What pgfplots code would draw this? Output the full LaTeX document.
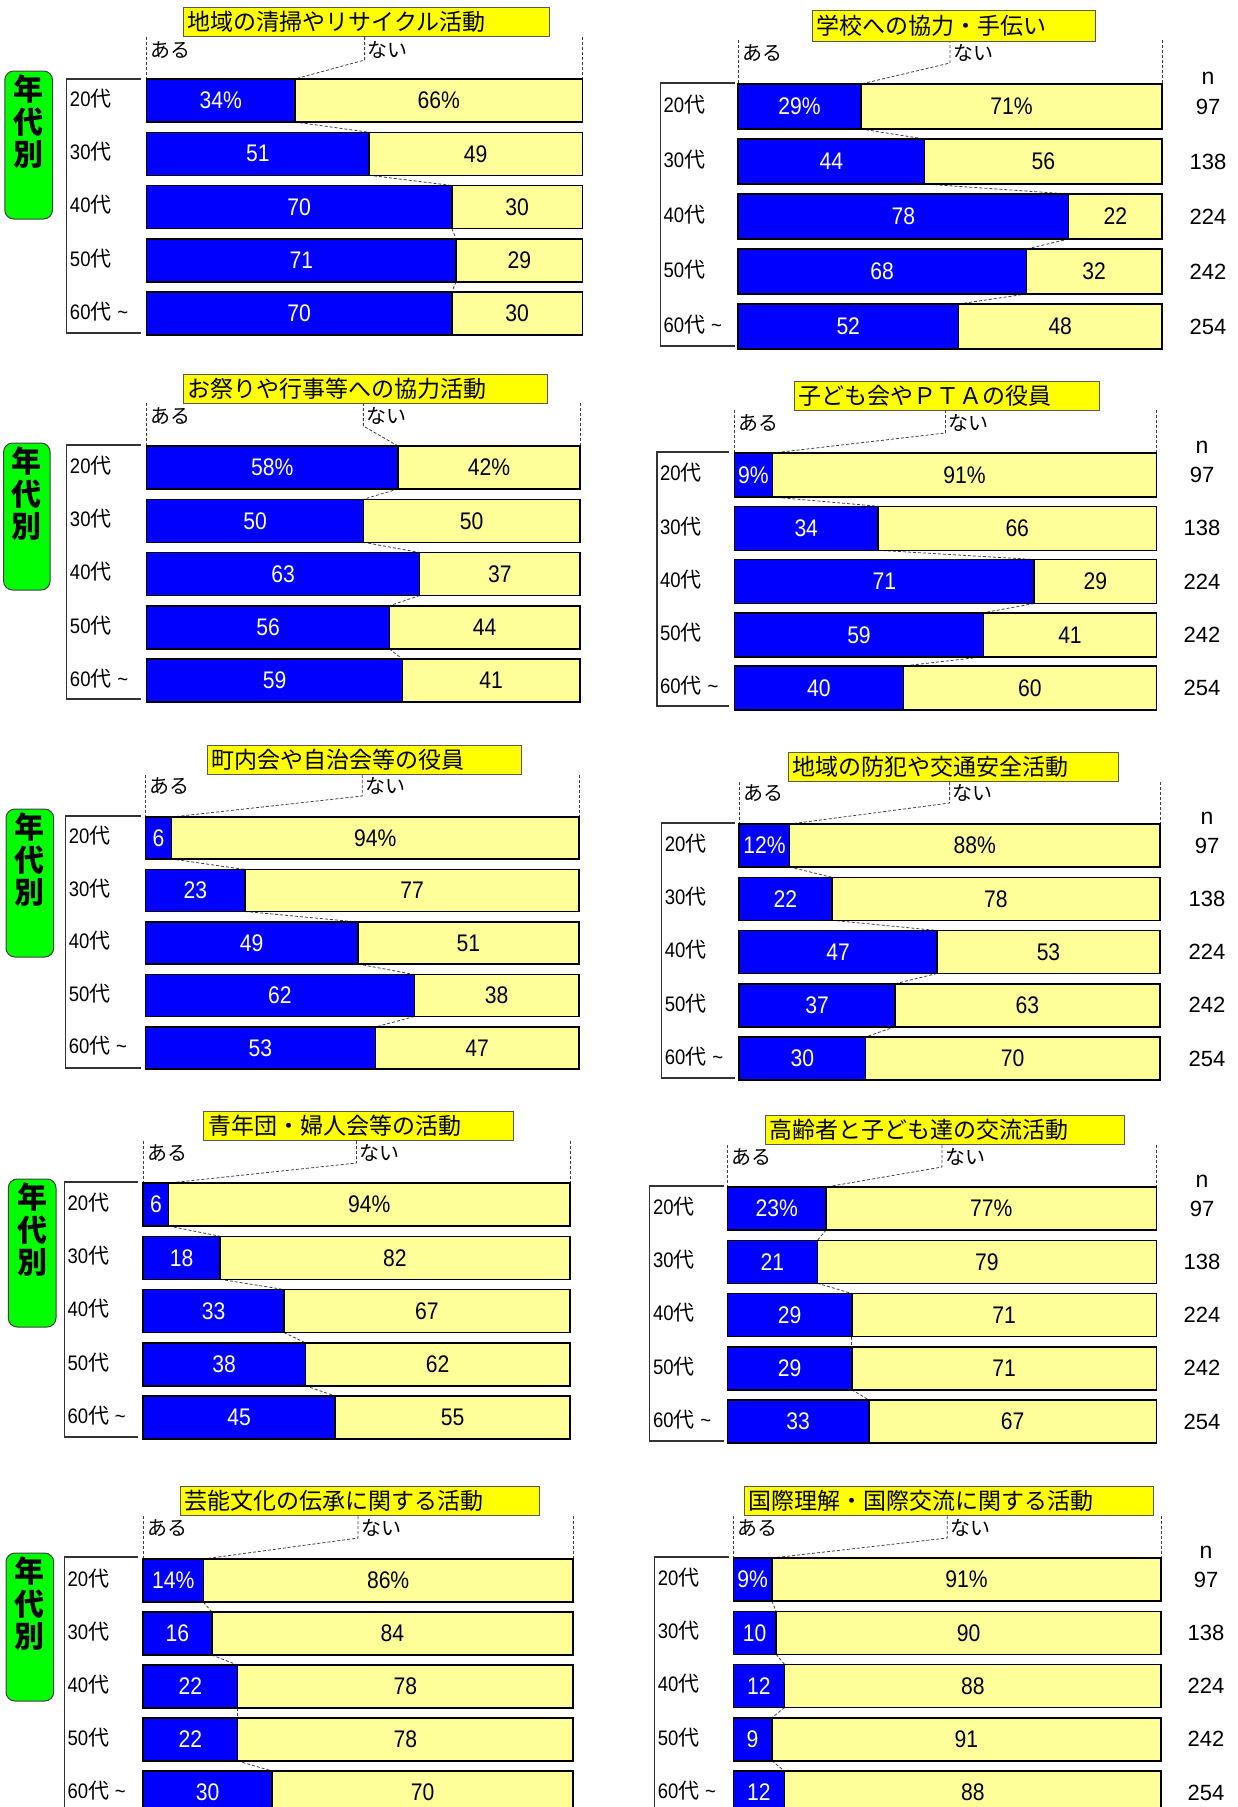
\documentclass[border=0pt]{standalone}
\usepackage{fontspec}
\usepackage{pgfplots}
\usepackage{pgfplotstable}
\pgfplotsset{compat=1.18}
\setmainfont{Liberation Sans}
\newfontfamily\cjk{Noto Sans CJK JP}
\newfontfamily\num[FakeStretch=0.88]{Liberation Sans}
\newfontfamily\numn{Liberation Sans}
\definecolor{bblue}{RGB}{0,0,255}
\definecolor{byel}{RGB}{255,255,153}
\definecolor{tyel}{RGB}{255,255,0}
\definecolor{gbox}{RGB}{0,255,0}
\tikzset{serie/.style={dash pattern=on 3pt off 2pt, black!75, line width=0.8pt}}
\pgfplotsset{
  lblY/.style={draw=none, mark=none, point meta=explicit symbolic,
    every node near coord/.append style={anchor=center, inner sep=0pt, text=white, font=\num\fontsize{24}{24}\selectfont}},
  lblN/.style={draw=none, mark=none, point meta=explicit symbolic,
    every node near coord/.append style={anchor=center, inner sep=0pt, text=black, font=\num\fontsize{24}{24}\selectfont}},
}

% ---------------- data ----------------
\pgfplotstableread{
i yes no n
0 34 66 97
1 51 49 138
2 70 30 224
3 71 29 242
4 70 30 254
}\tA
\pgfplotstableread{
i yes no n
0 29 71 97
1 44 56 138
2 78 22 224
3 68 32 242
4 52 48 254
}\tB
\pgfplotstableread{
i yes no n
0 58 42 97
1 50 50 138
2 63 37 224
3 56 44 242
4 59 41 254
}\tC
\pgfplotstableread{
i yes no n
0 9 91 97
1 34 66 138
2 71 29 224
3 59 41 242
4 40 60 254
}\tD
\pgfplotstableread{
i yes no n
0 6 94 97
1 23 77 138
2 49 51 224
3 62 38 242
4 53 47 254
}\tE
\pgfplotstableread{
i yes no n
0 12 88 97
1 22 78 138
2 47 53 224
3 37 63 242
4 30 70 254
}\tF
\pgfplotstableread{
i yes no n
0 6 94 97
1 18 82 138
2 33 67 224
3 38 62 242
4 45 55 254
}\tG
\pgfplotstableread{
i yes no n
0 23 77 97
1 21 79 138
2 29 71 224
3 29 71 242
4 33 67 254
}\tH
\pgfplotstableread{
i yes no n
0 14 86 97
1 16 84 138
2 22 78 224
3 22 78 242
4 30 70 254
}\tI
\pgfplotstableread{
i yes no n
0 9 91 97
1 10 90 138
2 12 88 224
3 9 91 242
4 12 88 254
}\tJ

% ---------------- helpers ----------------
\newcommand\age[1]{{\num #1}{\cjk\fontsize{21}{21}\selectfont 代}}
\newcommand\geom[7]{\def\pL{#1}\def\pR{#2}\def\pT{#3}\def\pP{#4}\def\pH{#5}\def\pD{#6}\def\pW{#7}}
\newcommand\brk[4]{\def\bX{#1}\def\bT{#2}\def\bB{#3}\def\bR{#4}%
  \draw[black!80, line width=1.2pt] (#4pt,-#2pt) -- (#1pt,-#2pt) -- (#1pt,-#3pt) -- (#4pt,-#3pt);}
\newcommand\ttl[5]{%
  \draw[fill=tyel, draw=black!65, line width=1pt] (#1pt,-#2pt) rectangle (#3pt,-#4pt);
  \node[anchor=west, inner sep=0pt, font=\cjk\fontsize{23}{25}\selectfont] at (#1pt+4pt,-#2pt/2-#4pt/2) {#5};}
\newcommand\grn[4]{%
  \draw[fill=gbox, draw=black!75, line width=1pt, rounded corners=9pt] (#1pt,-#2pt) rectangle (#3pt,-#4pt);
  \pgfmathsetmacro\gc{(#1+#3)/2}%
  \node[font=\cjk\bfseries\fontsize{30}{30}\selectfont, inner sep=0pt] at (\gc pt,-#2pt-18pt) {年};
  \node[font=\cjk\bfseries\fontsize{30}{30}\selectfont, inner sep=0pt] at (\gc pt,-#2pt-51pt) {代};
  \node[font=\cjk\bfseries\fontsize{30}{30}\selectfont, inner sep=0pt] at (\gc pt,-#2pt-83pt) {別};}
\newcommand\nhead[2]{\node[font=\fontsize{23}{23}\selectfont, inner sep=0pt] at (#1pt,-#2pt) {n};}

\newcommand\panel[3]{% #1 table, #2 x of n column (0 = none), #3 suffix of first blue label
  \pgfmathsetmacro\Atop{\pT+\pH/2-\pP/2}%
  \pgfmathsetmacro\Ht{5*\pP}%
  \pgfmathsetmacro\Wd{\pR-\pL}%
  \pgfmathsetmacro\bw{\pH/\pP}%
  \pgfmathsetmacro\hh{\bw/2}%
  \pgfmathsetmacro\uD{(\pD-\Atop)/\pP-0.5}%
  \pgfmathsetmacro\uB{(\pW+10-\Atop)/\pP-0.5}%
  \pgfmathsetmacro\lsh{\bX+3-\pL}%
  \pgfmathsetmacro\nxu{(#2-\pL)/(\pR-\pL)*100}%
  \pgfplotstablegetelem{0}{yes}\of#1\let\yz\pgfplotsretval
  \begin{axis}[at={(\pL pt,-\Atop pt)}, anchor=north west, scale only axis,
    width=\Wd pt, height=\Ht pt, xmin=0, xmax=100, ymin=-0.5, ymax=4.5, y dir=reverse,
    axis line style={draw=none}, xtick=\empty, ytick={0,1,2,3,4}, major tick length=0pt,
    yticklabels={\age{20},\age{30},\age{40},\age{50},{\age{60}\ {\num\textasciitilde}}},
    yticklabel style={anchor=west, inner sep=0pt, xshift=\lsh pt, yshift=2pt, font=\fontsize{21}{21}\selectfont},
    clip=false]
    \addplot[serie] coordinates {(0,\uD)(0,-\hh)};
    \addplot[serie] coordinates {(100,\uD)(100,-\hh)};
    \addplot[serie] coordinates {(50,\uD)(50,\uB)(\yz,-\hh)};
    \pgfplotsforeachungrouped \k in {0,1,2,3}{%
      \pgfmathtruncatemacro\kk{\k+1}%
      \pgfplotstablegetelem{\k}{yes}\of#1\let\ya\pgfplotsretval
      \pgfplotstablegetelem{\kk}{yes}\of#1\let\yb\pgfplotsretval
      \pgfmathsetmacro\ua{\k+\hh}\pgfmathsetmacro\ub{\kk-\hh}%
      \edef\tmp{\noexpand\addplot[serie] coordinates {(\ya,\ua)(\yb,\ub)};}\tmp
    }
    \addplot[xbar, bar width=\bw, bar shift=0pt, fill=byel, draw=black, line width=1.5pt]
      table[x expr=\thisrow{yes}+\thisrow{no}, y=i]{#1};
    \addplot[xbar, bar width=\bw, bar shift=0pt, fill=bblue, draw=black, line width=1.5pt]
      table[x=yes, y=i]{#1};
    % labels: first row
    \addplot[lblY, skip coords between index={1}{5}, nodes near coords={\pgfplotspointmeta#3}]
      table[x expr=\thisrow{yes}/2, y=i, meta=yes]{#1};
    \addplot[lblN, skip coords between index={1}{5}, nodes near coords={\pgfplotspointmeta\%}]
      table[x expr=\thisrow{yes}+\thisrow{no}/2, y=i, meta=no]{#1};
    % labels: other rows
    \addplot[lblY, skip coords between index={0}{1}, nodes near coords={\pgfplotspointmeta}]
      table[x expr=\thisrow{yes}/2, y=i, meta=yes]{#1};
    \addplot[lblN, skip coords between index={0}{1}, nodes near coords={\pgfplotspointmeta}]
      table[x expr=\thisrow{yes}+\thisrow{no}/2, y=i, meta=no]{#1};
    \ifdim #2pt>0pt
    \addplot[lblN, nodes near coords={\pgfplotspointmeta},
      every node near coord/.append style={font=\numn\fontsize{22}{22}\selectfont}]
      table[x expr=\nxu, y=i, meta=n]{#1};
    \fi
  \end{axis}
  \pgfmathsetmacro\mx{(\pL+\pR)/2}%
  \node[anchor=west, inner sep=0pt, font=\cjk\fontsize{20}{20}\selectfont] at (\pL pt+4pt,-\pW pt) {ある};
  \node[anchor=west, inner sep=0pt, font=\cjk\fontsize{20}{20}\selectfont] at (\mx pt+3pt,-\pW pt) {ない};
}

\begin{document}
\begin{tikzpicture}
\useasboundingbox (0pt,0pt) rectangle (1237pt,-1807pt);
% row 1
\geom{146.7}{582.5}{79}{53.25}{43}{37}{50}\brk{66.8}{79}{333}{140.7}
\panel{\tA}{0}{\%}
\ttl{183.6}{7}{549}{36}{地域の清掃やリサイクル活動}
\grn{4.8}{71}{52.5}{219}
\geom{738}{1162}{84}{55}{45}{40}{53}\brk{660.5}{83}{346}{734.5}
\panel{\tB}{1208}{\%}
\ttl{812}{10}{1095}{41}{学校への協力・手伝い}
\nhead{1208}{78}
% row 2
\geom{146.7}{580}{446}{53.25}{43}{403}{416}\brk{66.8}{445}{699}{140.7}
\panel{\tC}{0}{\%}
\ttl{183.6}{374}{547}{403}{お祭りや行事等への協力活動}
\grn{3.6}{443}{50.1}{590}
\geom{734.5}{1156.5}{453}{53.25}{44}{410}{423}\brk{657}{452}{706}{728.5}
\panel{\tD}{1202}{\%}
\ttl{794.1}{381}{1099}{410}{子ども会やＰＴＡの役員}
\nhead{1202}{447}
% row 3
\geom{145.5}{579}{817}{52.5}{42}{775}{786}\brk{65.6}{816}{1068}{140.7}
\panel{\tE}{0}{}
\ttl{207.5}{745}{521}{774}{町内会や自治会等の役員}
\grn{6}{809}{53.7}{957}
\geom{739.2}{1160}{824}{53.25}{43}{782}{793}\brk{661.7}{823}{1078}{734.5}
\panel{\tF}{1207}{\%}
\ttl{788.1}{752}{1118}{781}{地域の防犯や交通安全活動}
\nhead{1207}{818}
% row 4
\geom{143.1}{570}{1183}{53.25}{43}{1141}{1153}\brk{64.4}{1182}{1437}{138.3}
\panel{\tG}{0}{}
\ttl{203.9}{1111}{513}{1140}{青年団・婦人会等の活動}
\grn{8.3}{1179}{56}{1327}
\geom{727.3}{1156.5}{1187}{53.25}{43}{1145}{1157}\brk{649.8}{1186}{1441}{723.7}
\panel{\tH}{1202}{\%}
\ttl{765.5}{1115}{1124}{1144}{高齢者と子ども達の交流活動}
\nhead{1202}{1181}
% row 5
\geom{143.1}{573}{1559}{53}{43}{1516}{1528}\brk{64.4}{1557}{1812}{138.3}
\panel{\tI}{0}{\%}
\ttl{180}{1486}{539}{1515}{芸能文化の伝承に関する活動}
\grn{6}{1553}{53.7}{1701}
\geom{733.3}{1161}{1558}{53.25}{43}{1516}{1528}\brk{654.6}{1557}{1812}{728.5}
\panel{\tJ}{1206}{\%}
\ttl{744}{1486}{1153}{1515}{国際理解・国際交流に関する活動}
\nhead{1206}{1552}
\end{tikzpicture}
\end{document}
